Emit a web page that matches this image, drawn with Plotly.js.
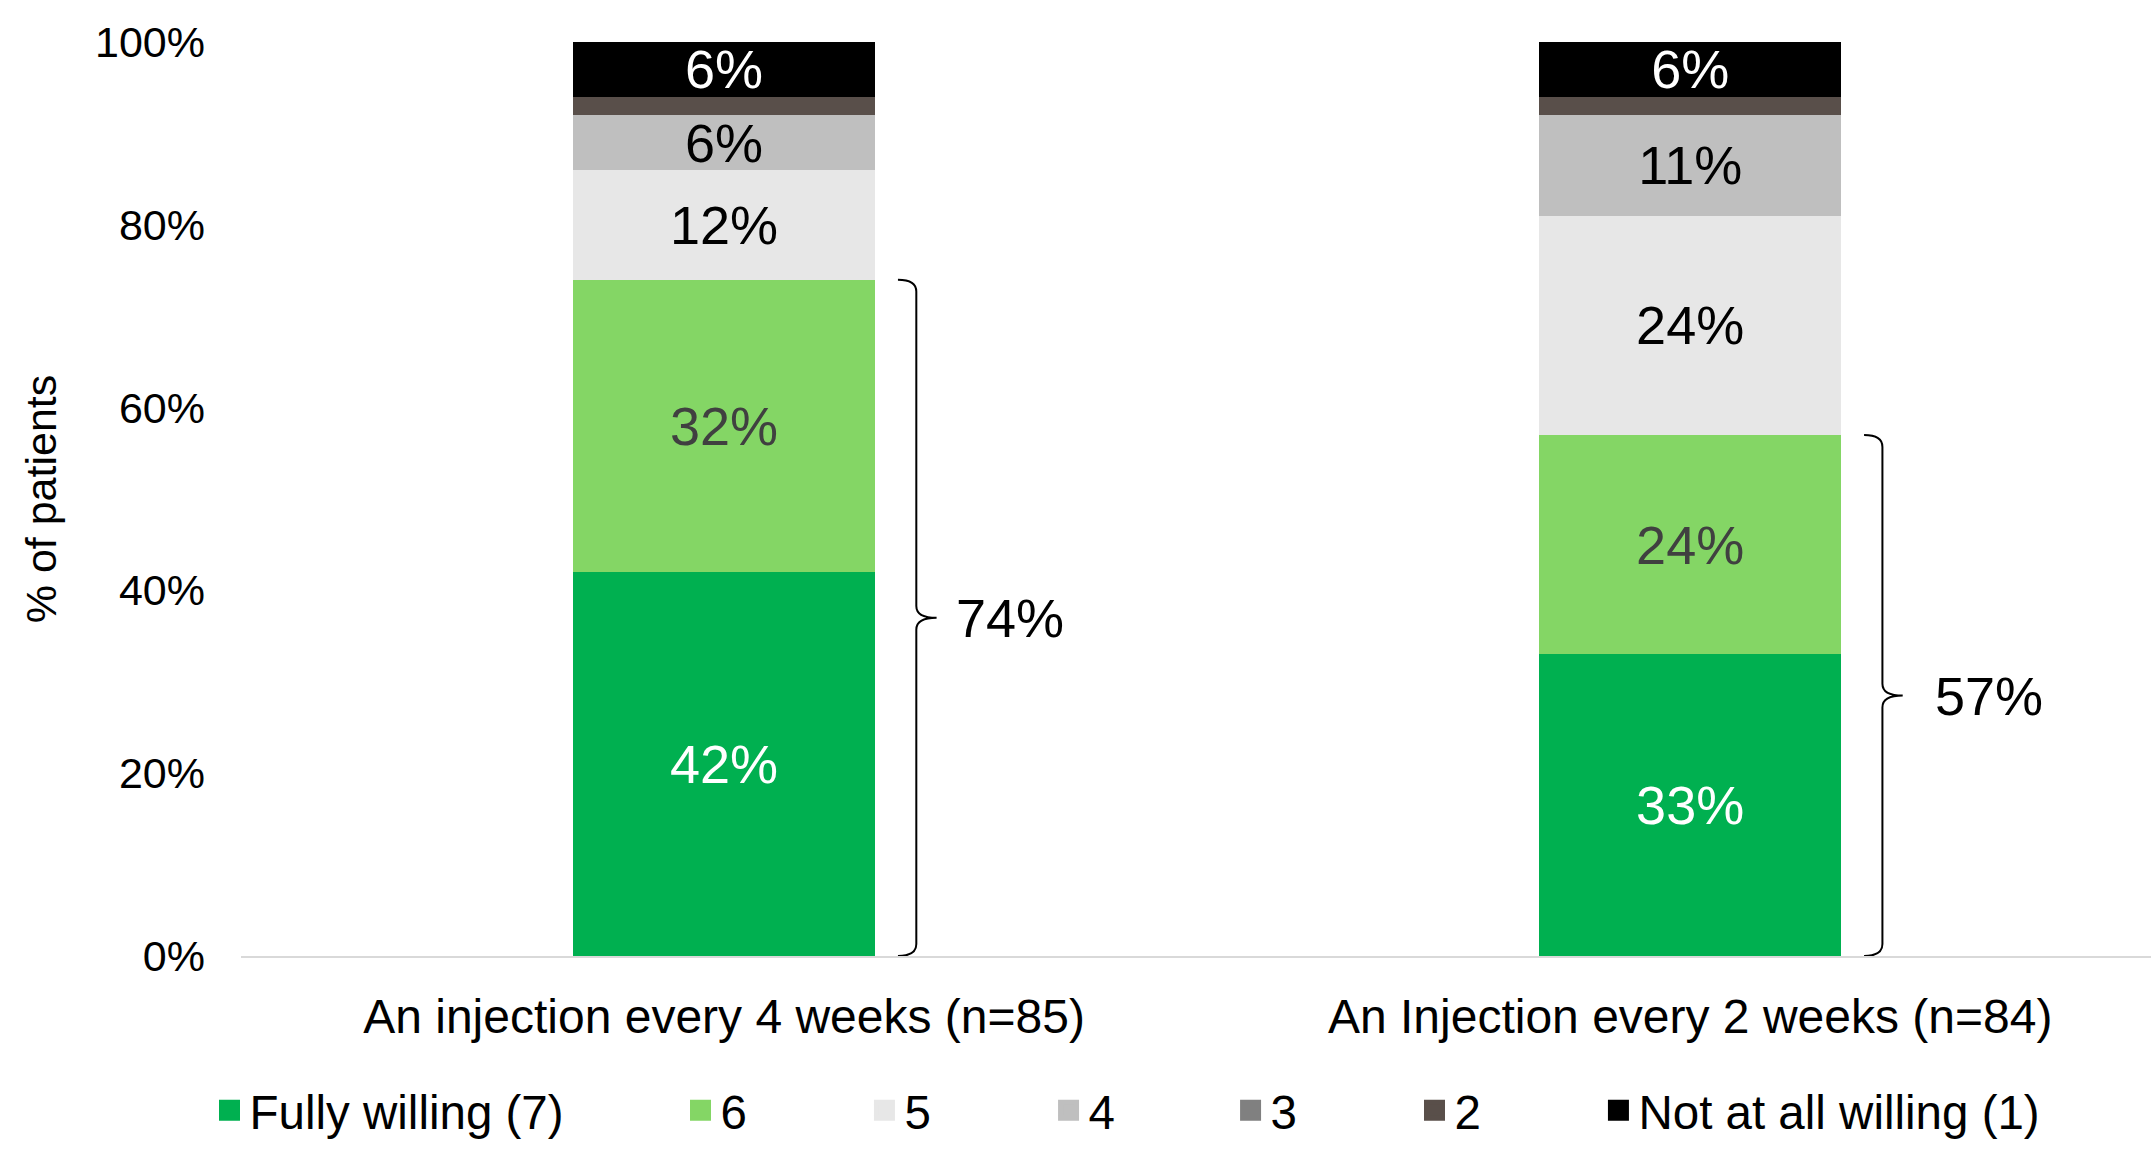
<!DOCTYPE html>
<html>
<head>
<meta charset="utf-8">
<script src="https://cdn.plot.ly/plotly-3.0.1.min.js"></script>
<style>html,body{margin:0;padding:0;background:#fff;}#chart{width:2151px;height:1160px;}</style>
</head>
<body>
<div id="chart"></div>
<script>
// ---- data ----
const categories = ['An injection every 4 weeks (n=85)', 'An Injection every 2 weeks (n=84)'];
const seriesNames = ['Fully willing (7)', '6', '5', '4', '3', '2', 'Not at all willing (1)'];
const fullyWilling = [42, 33];
const score6 = [32, 24];
const score5 = [12, 24];
const score4 = [6, 11];
const score3 = [0, 0];
const score2 = [2, 2];
const notAtAllWilling = [6, 6];
const topTwoBox = [74, 57];
const yTicks = [0, 20, 40, 60, 80, 100];

// ---- styles ----
const seriesValues = [fullyWilling, score6, score5, score4, score3, score2, notAtAllWilling];
const colors = ['#00b050', '#84d665', '#e7e7e7', '#bfbfbf', '#808080', '#594f4a', '#000000'];
const labelColors = ['#ffffff', '#404040', '#000000', '#000000', '#000000', '#ffffff', '#ffffff'];
const FONT = 'Liberation Sans, Arial, sans-serif';
const xIdx = categories.map((c, i) => i);

const traces = [];
seriesValues.forEach((vals, s) => {
  traces.push({
    type: 'bar',
    x: xIdx,
    y: vals,
    name: seriesNames[s],
    width: 0.312,
    marker: {color: colors[s], line: {width: 0}},
    text: vals.map(v => v >= 5 ? v + '%' : ''),
    textposition: 'inside',
    insidetextanchor: 'middle',
    textangle: 0,
    constraintext: 'none',
    insidetextfont: {family: FONT, size: 54, color: labelColors[s]},
    hoverinfo: 'none',
    showlegend: false
  });
});

// legend entries (one legend per entry to match spacing)
const legendX = [-0.0165, 0.2301, 0.3264, 0.4228, 0.5181, 0.6144, 0.7107];
const legendNames = ['legend', 'legend2', 'legend3', 'legend4', 'legend5', 'legend6', 'legend7'];
seriesNames.forEach((n, s) => {
  traces.push({
    type: 'scatter', mode: 'markers', x: [null], y: [null], name: n,
    marker: {symbol: 'square', size: 16, color: colors[s], line: {width: 5, color: colors[s]}},
    legend: legendNames[s], showlegend: true, hoverinfo: 'none'
  });
});

// braces and their labels
const shapes = [];
const annotations = [];
topTwoBox.forEach((v, i) => {
  const xt = i + 0.18, xv = i + 0.199, xp = i + 0.22;
  const top = v, bot = 0, mid = v / 2, d = 1.3;
  const path = `M${xt},${top} Q${xv},${top} ${xv},${top - d} L${xv},${mid + d} Q${xv},${mid} ${xp},${mid} ` +
               `Q${xv},${mid} ${xv},${mid - d} L${xv},${bot + d} Q${xv},${bot} ${xt},${bot}`;
  shapes.push({type: 'path', xref: 'x', yref: 'y', path: path, line: {color: '#000', width: 2}});
  annotations.push({
    x: i + (i === 0 ? 0.238 : 0.251), y: mid, xref: 'x', yref: 'y', xanchor: 'left', yanchor: 'middle',
    text: v + '%', showarrow: false, font: {family: FONT, size: 54, color: '#000'}
  });
});

const layout = {
  width: 2151, height: 1160,
  margin: {l: 241, r: 0, t: 42, b: 204},
  paper_bgcolor: '#fff', plot_bgcolor: '#fff',
  barmode: 'stack',
  font: {family: FONT, color: '#000'},
  xaxis: {
    type: 'linear', range: [-0.5, 1.477], tickvals: xIdx, ticktext: categories,
    showgrid: false, zeroline: false, showline: true, linecolor: '#d9d9d9', linewidth: 2,
    ticks: '', tickfont: {family: FONT, size: 48, color: '#000'}, ticklabelstandoff: 17,
    layer: 'below traces', fixedrange: true
  },
  yaxis: {
    range: [0, 100], tickvals: yTicks, ticktext: yTicks.map(t => t + '%'),
    showgrid: false, zeroline: false, showline: false, ticks: '',
    tickfont: {family: FONT, size: 43, color: '#000'}, ticklabelstandoff: 35,
    title: {text: '% of patients', font: {family: FONT, size: 43, color: '#000'}, standoff: 24},
    fixedrange: true
  },
  shapes: shapes,
  annotations: annotations,
  showlegend: true
};
legendNames.forEach((ln, s) => {
  layout[ln] = {
    x: legendX[s], xanchor: 'left', y: -0.169, yanchor: 'middle', orientation: 'h',
    font: {family: FONT, size: 47.5, color: '#000'}, bgcolor: 'rgba(0,0,0,0)', borderwidth: 0
  };
});

Plotly.newPlot('chart', traces, layout, {displayModeBar: false, staticPlot: true});
</script>
</body>
</html>
